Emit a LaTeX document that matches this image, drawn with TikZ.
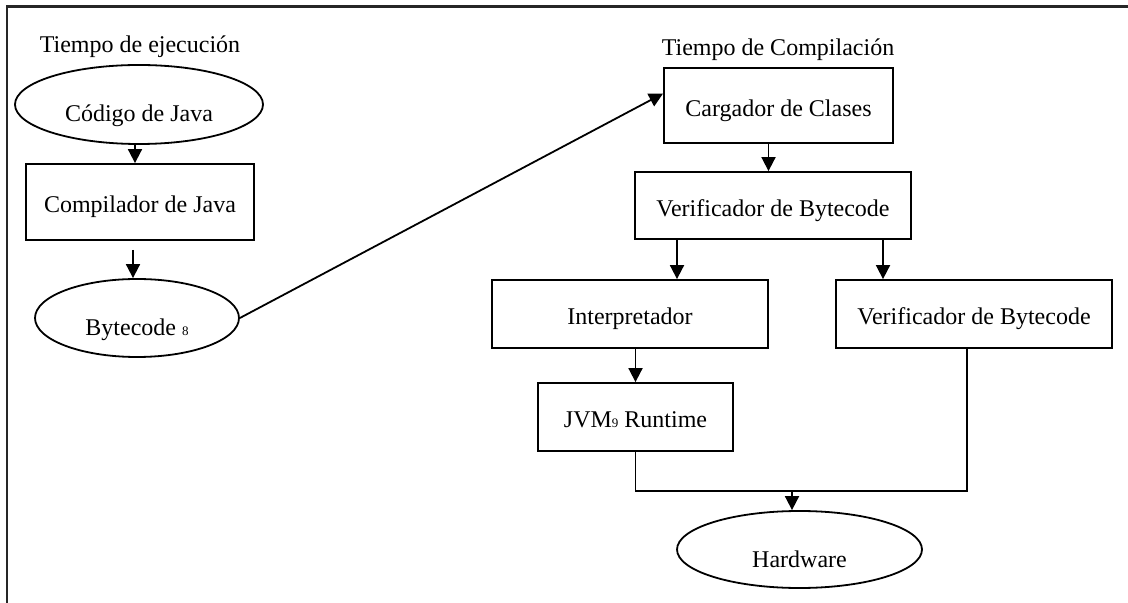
\documentclass[tikz,border=0pt]{standalone}
\usepackage{fontspec}
\setmainfont{Liberation Serif}
\usetikzlibrary{shapes.geometric,arrows.meta}
\newcommand{\refnum}[1]{{\fontsize{6.5}{7}\selectfont #1}}

\begin{document}
\begin{tikzpicture}[x=0.5pt,y=-0.5pt,>={Triangle[length=7pt,width=7pt]}]
	\tikzstyle{caja} = [draw, line width=0.9pt, rectangle, inner sep=0pt, text height=13.5pt, text depth=2.5pt, font=\fontsize{12}{14}\selectfont]
	\tikzstyle{elipse} = [draw, line width=0.9pt, ellipse, inner sep=0pt, text height=20pt, text depth=2.5pt, font=\fontsize{12}{14}\selectfont]
	\tikzstyle{titulo} = [anchor=base, inner sep=0pt, font=\fontsize{12}{14}\selectfont]
	\tikzstyle{flecha} = [->, line width=0.9pt]
	\useasboundingbox (0,0) rectangle (1128,603);
	\draw [line width=1.1pt, black!85] (7,603) -- (7,6.5) -- (1128,6.5);
	
	\node [titulo] (tejec) at (140,53) {Tiempo de ejecución};
	\node [elipse, minimum width=124pt, minimum height=39.5pt] (codigo) at (139,104.5) {Código de Java};
	\node [caja, minimum width=114pt, minimum height=38pt] (compilador) at (140,202) {Compilador de Java};
	\node [elipse, minimum width=102pt, minimum height=39pt] (bytecode) at (137,318) {Bytecode \refnum{8}};
	
	\node [titulo] (tcomp) at (778,56) {Tiempo de Compilación};
	\node [caja, minimum width=114.5pt, minimum height=37.5pt] (cargador) at (778.5,105.5) {Cargador de Clases};
	\node [caja, minimum width=138pt, minimum height=33.5pt] (verif1) at (773,205.5) {Verificador de Bytecode};
	\node [caja, minimum width=138pt, minimum height=34pt] (interp) at (630,314) {Interpretador};
	\node [caja, minimum width=138pt, minimum height=34pt] (verif2) at (974,314) {Verificador de Bytecode};
	\node [caja, minimum width=97.5pt, minimum height=34pt] (jvm) at (635.5,417) {JVM\refnum{9} Runtime};
	\node [elipse, minimum width=122.5pt, minimum height=38.5pt] (hardware) at (799.5,549.5) {Hardware};
	\coordinate (union) at (792,491);
	
	\draw [flecha] ([xshift=-2pt]codigo.south) -- ([xshift=-2pt]codigo.south |- compilador.north);
	\draw [flecha] ([shift={(-3.5pt,-4.5pt)}]compilador.south) -- ([xshift=-3.5pt]compilador.south |- bytecode.north);
	\draw [flecha] (bytecode.east) -- ([yshift=6pt]cargador.west);
	\draw [flecha] ([xshift=-5pt]cargador.south) -- ([xshift=-5pt]cargador.south |- verif1.north);
	\draw [flecha] ([xshift=23.5pt]interp.north |- verif1.south) -- ([xshift=23.5pt]interp.north);
	\draw [flecha] ([xshift=-45.5pt]verif2.north |- verif1.south) -- ([xshift=-45.5pt]verif2.north);
	\draw [flecha] (interp.south -| jvm.north) -- (jvm.north);
	\draw [line width=0.9pt] (jvm.south) |- (union) -| ([xshift=-3.5pt]verif2.south);
	\draw [flecha] (union) -- (union |- hardware.north);
	
\end{tikzpicture}
\end{document}
